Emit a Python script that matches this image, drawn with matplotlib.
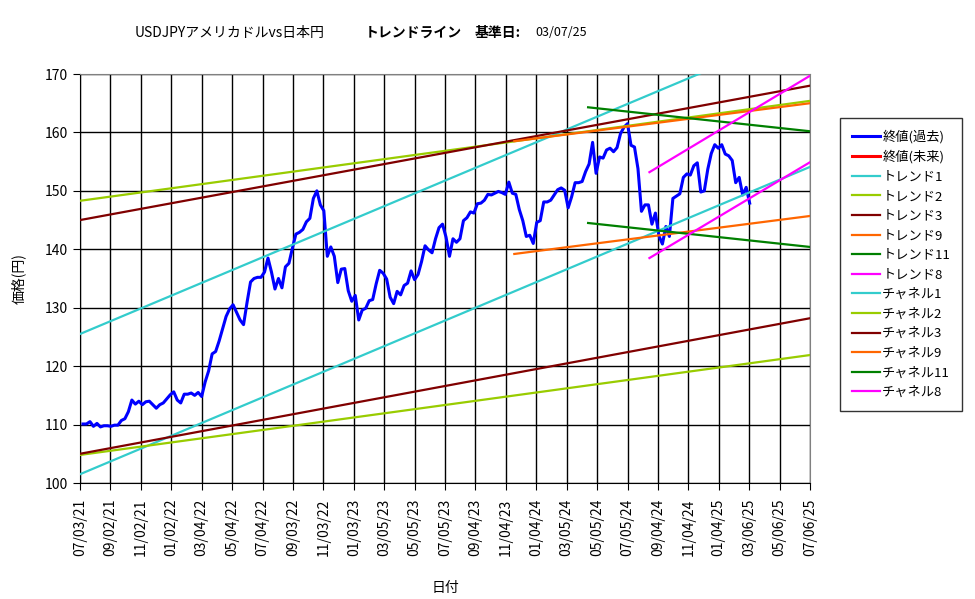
import matplotlib
matplotlib.use('Agg')
import matplotlib.pyplot as plt
import matplotlib.dates as mdates
import pandas as pd

plt.rcParams['font.family'] = ['Noto Sans CJK JP', 'DejaVu Sans']

# weekly closes (Friday)
close_2021 = [110.1, 110.1, 110.5, 109.7, 110.2, 109.6, 109.8, 109.8, 109.7, 109.9,
              109.9, 110.7, 111.0, 112.2, 114.2, 113.5, 114.0, 113.4, 113.9, 114.0,
              113.4, 112.8, 113.4, 113.7, 114.4, 115.1]
close_2022 = [115.6, 114.2, 113.7, 115.2, 115.2, 115.4, 115.0, 115.5, 114.8, 117.3,
              119.2, 122.1, 122.5, 124.3, 126.4, 128.5, 129.8, 130.5, 129.2, 127.9,
              127.1, 130.9, 134.4, 135.0, 135.2, 135.2, 136.1, 138.5, 136.1, 133.2,
              135.0, 133.4, 137.0, 137.6, 140.2, 142.6, 142.9, 143.4, 144.7, 145.3,
              148.7, 150.0, 147.6, 146.6, 138.8, 140.4, 138.8, 134.3, 136.6, 136.7,
              132.9, 131.1]
close_2023 = [132.1, 127.9, 129.6, 129.9, 131.2, 131.4, 134.1, 136.4, 135.9, 134.9,
              131.8, 130.7, 132.8, 132.2, 133.8, 134.2, 136.3, 134.8, 135.7, 137.9,
              140.6, 139.9, 139.4, 141.8, 143.7, 144.3, 142.1, 138.8, 141.8, 141.2,
              141.8, 144.9, 145.4, 146.4, 146.2, 147.8, 147.9, 148.4, 149.4, 149.3,
              149.6, 149.9, 149.7, 149.4, 151.5, 149.6, 149.4, 146.8, 144.9, 142.2,
              142.4, 141.0]
close_2024 = [144.6, 144.9, 148.1, 148.1, 148.4, 149.3, 150.2, 150.5, 150.1, 147.1,
              149.0, 151.4, 151.4, 151.6, 153.3, 154.6, 158.3, 153.0, 155.8, 155.6,
              157.0, 157.3, 156.7, 157.4, 159.8, 160.9, 161.5, 157.8, 157.5, 153.8,
              146.5, 147.6, 147.6, 144.3, 146.2, 142.3, 140.9, 143.9, 142.2, 148.7,
              149.1, 149.5, 152.3, 152.9, 152.7, 154.3, 154.8, 149.8, 150.0, 153.7,
              156.4, 157.9]
close_2025 = [157.3, 157.9, 156.3, 156.0, 155.2, 151.4, 152.3, 149.3, 150.6, 147.9]

close = close_2021 + close_2022 + close_2023 + close_2024 + close_2025
close_dates = pd.date_range('2021-07-09', periods=len(close), freq='W-FRI')

# trend / channel lines: start date, end date, start value, end value
line_names = ['トレンド1', 'トレンド2', 'トレンド3', 'トレンド9', 'トレンド11', 'トレンド8',
              'チャネル1', 'チャネル2', 'チャネル3', 'チャネル9', 'チャネル11', 'チャネル8']
line_start = ['2021-07-03', '2021-07-03', '2021-07-03', '2023-11-21', '2024-04-17', '2024-08-18',
              '2021-07-03', '2021-07-03', '2021-07-03', '2023-11-21', '2024-04-17', '2024-08-18']
line_end = ['2025-07-06'] * 12
line_v0 = [125.5, 148.3, 145.0, 158.5, 164.3, 153.2,
           101.5, 104.8, 105.0, 139.2, 144.5, 138.5]
line_v1 = [178.0, 165.4, 168.0, 165.0, 160.2, 169.7,
           154.1, 121.9, 128.2, 145.7, 140.4, 154.9]

base_colors = ['#33cccc', '#99cc00', '#800000', '#ff6600', '#008000', '#ff00ff']
line_colors = base_colors + base_colors

fig = plt.figure(figsize=(9.75, 5.99), dpi=100)
ax = fig.add_axes([80 / 975, 116 / 599, 730 / 975, 409 / 599])

ax.plot(close_dates, close, color='#0000ff', lw=2.2, label='終値(過去)', zorder=3)
ax.plot([], [], color='#ff0000', lw=2.2, label='終値(未来)')
for name, s, e, v0, v1, c in zip(line_names, line_start, line_end, line_v0, line_v1, line_colors):
    ax.plot(pd.to_datetime([s, e]), [v0, v1], color=c, lw=1.6, label=name, zorder=4)

ticks = pd.date_range('2021-07-03', periods=25, freq='61D')
ax.set_xlim(ticks[0], ticks[-1])
ax.set_xticks(ticks)
ax.xaxis.set_major_formatter(mdates.DateFormatter('%m/%d/%y'))
ax.set_ylim(100, 170)
ax.set_yticks(range(100, 171, 10))
ax.grid(True, color='black', lw=1)
ax.set_axisbelow(True)
ax.tick_params(axis='x', labelrotation=90, labelsize=10, direction='out', length=5, pad=6)
ax.tick_params(axis='y', labelsize=10, direction='out', length=5)
for sp in ['top', 'right']:
    ax.spines[sp].set_color('#808080')
ax.set_xlabel('日付', fontsize=10, labelpad=18)
ax.set_ylabel('価格(円)', fontsize=10, labelpad=14)

fig.text(135 / 975, 1 - 33 / 599, 'USDJPYアメリカドルvs日本円', fontsize=10, va='center')
fig.text(365 / 975, 1 - 33 / 599, 'トレンドライン', fontsize=10, fontweight='bold', va='center')
fig.text(475 / 975, 1 - 33 / 599, '基準日:', fontsize=10, fontweight='bold', va='center')
fig.text(535 / 975, 1 - 33 / 599, '03/07/25', fontsize=9, va='center')

leg = fig.legend(loc='upper left', bbox_to_anchor=(840 / 975, 1 - 118 / 599),
                 bbox_transform=fig.transFigure, borderaxespad=0, fontsize=9.5,
                 frameon=True, fancybox=False, edgecolor='black', handlelength=2.1,
                 handletextpad=0.2, labelspacing=0.5, borderpad=0.9)
leg.get_frame().set_linewidth(1)

fig.savefig('out.png', dpi=100)
